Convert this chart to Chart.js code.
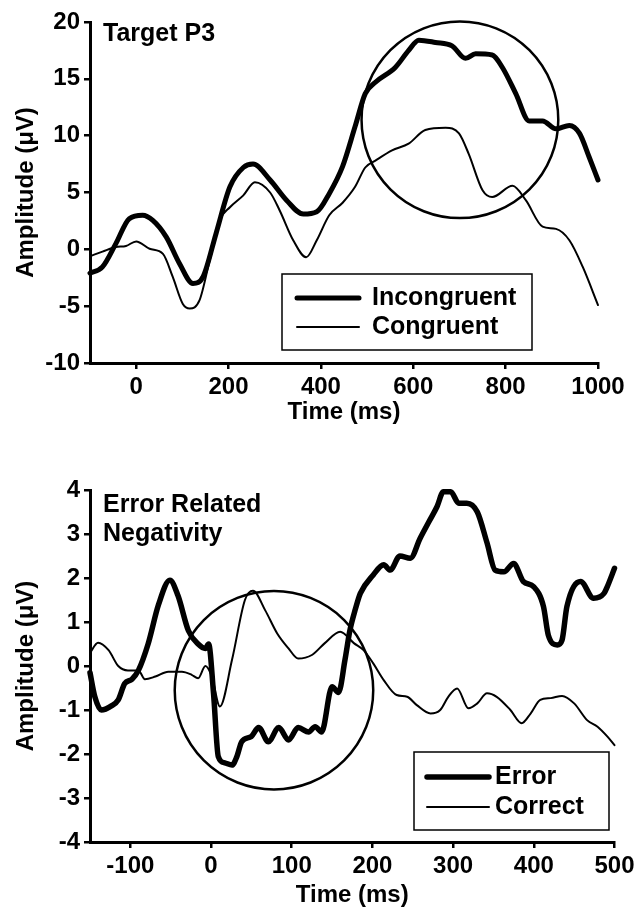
<!DOCTYPE html>
<html>
<head>
<meta charset="utf-8">
<script src="https://cdn.jsdelivr.net/npm/chart.js@4.4.1/dist/chart.umd.min.js"></script>
<style>
  body { margin: 0; background: #fff; }
  canvas { display: block; }
</style>
</head>
<body>
<canvas id="p3" width="639" height="430"></canvas>
<canvas id="ern" width="639" height="483"></canvas>
<script>
// --- Target P3 (top panel) ---
const p3XTicks = [0, 200, 400, 600, 800, 1000];
const p3YTicks = [-10, -5, 0, 5, 10, 15, 20];
const incongruentTime = [-100, -73, -44, -15, 14, 36, 65, 94, 123, 145, 173, 203, 232, 253, 290, 326, 362, 391, 418, 447, 474, 496, 518, 561, 590, 612, 648, 684, 713, 735, 771, 793, 822, 851, 880, 909, 938, 960, 981, 1000];
const incongruentAmp = [-2.1, -1.55, 0.5, 2.7, 3.0, 2.55, 1.1, -1.26, -3.0, -2.4, 1.4, 5.5, 7.2, 7.5, 6.1, 4.3, 3.1, 3.3, 4.9, 7.3, 10.8, 13.7, 14.7, 16.0, 17.5, 18.4, 18.2, 17.9, 16.8, 17.2, 17.1, 16.0, 13.7, 11.3, 11.3, 10.6, 10.9, 10.2, 8.1, 6.1];
const congruentTime = [-100, -73, -44, -22, 0, 29, 58, 79, 101, 116, 137, 159, 181, 203, 232, 257, 290, 311, 340, 368, 391, 418, 447, 474, 496, 518, 554, 590, 626, 670, 699, 720, 750, 771, 815, 844, 880, 909, 938, 967, 1000];
const congruentAmp = [-0.6, -0.2, 0.2, 0.3, 0.7, 0.05, -0.4, -2.4, -4.8, -5.2, -4.5, -1.0, 2.55, 3.7, 4.75, 5.9, 5.0, 3.4, 0.8, -0.7, 0.8, 3.0, 4.1, 5.5, 7.2, 7.8, 8.7, 9.3, 10.5, 10.7, 10.2, 8.4, 5.2, 4.6, 5.6, 4.3, 2.0, 1.8, 0.8, -1.55, -4.9];

// --- Error Related Negativity (bottom panel) ---
const ernXTicks = [-100, 0, 100, 200, 300, 400, 500];
const ernYTicks = [-4, -3, -2, -1, 0, 1, 2, 3, 4];
const errorTime = [-150, -144, -136, -123, -115, -107, -98, -90, -78, -65, -51, -41, -28, -16, -7, -3, 3, 9, 17, 26, 32, 38, 50, 59, 71, 84, 96, 108, 121, 129, 137, 150, 158, 166, 172, 179, 185, 201, 214, 222, 234, 247, 259, 270, 280, 288, 297, 307, 317, 330, 342, 352, 363, 375, 387, 400, 412, 418, 429, 435, 441, 458, 474, 487, 491, 500];
const errorAmp = [-0.15, -0.7, -1.0, -0.9, -0.77, -0.4, -0.3, -0.1, 0.5, 1.4, 1.95, 1.6, 0.8, 0.5, 0.4, 0.5, -0.6, -2.06, -2.2, -2.25, -2.06, -1.72, -1.6, -1.4, -1.72, -1.4, -1.68, -1.4, -1.5, -1.38, -1.5, -0.47, -0.6, 0.14, 0.8, 1.3, 1.65, 2.07, 2.3, 2.18, 2.5, 2.45, 2.9, 3.28, 3.62, 3.96, 3.96, 3.7, 3.7, 3.5, 2.8, 2.18, 2.14, 2.33, 1.92, 1.8, 1.35, 0.7, 0.48, 0.59, 1.35, 1.92, 1.54, 1.65, 1.8, 2.22];
const correctTime = [-150, -140, -127, -115, -103, -90, -82, -69, -53, -36, -24, -16, -7, 1, 11, 26, 42, 52, 67, 82, 96, 108, 125, 141, 160, 177, 189, 201, 214, 230, 243, 255, 272, 284, 294, 305, 319, 330, 342, 354, 371, 385, 396, 408, 421, 435, 450, 466, 479, 491, 500];
const correctAmp = [0.3, 0.53, 0.36, 0, -0.1, -0.1, -0.3, -0.24, -0.13, -0.13, -0.2, -0.28, 0, -0.24, -0.92, 0.14, 1.5, 1.71, 1.27, 0.74, 0.4, 0.17, 0.25, 0.52, 0.78, 0.52, 0.36, 0.06, -0.32, -0.66, -0.7, -0.89, -1.08, -1.0, -0.7, -0.51, -0.96, -0.85, -0.62, -0.7, -1.0, -1.3, -1.08, -0.77, -0.73, -0.68, -0.85, -1.23, -1.38, -1.6, -1.8];

const FONT = "'Liberation Sans', Arial, sans-serif";

function points(xs, ys) {
  return xs.map((x, i) => ({ x: x, y: ys[i] }));
}

// draws panel title, the highlight circle and the boxed legend
const overlayPlugin = {
  id: "overlay",
  afterDraw(chart, _args, opts) {
    const { ctx, chartArea } = chart;
    const xs = chart.scales.x;
    const ys = chart.scales.y;
    ctx.save();
    ctx.fillStyle = "#000";
    ctx.strokeStyle = "#000";
    ctx.font = "bold 25px " + FONT;
    ctx.textAlign = "left";
    ctx.textBaseline = "middle";
    opts.title.forEach((line, i) => {
      ctx.fillText(line, chartArea.left + 13, opts.titleY + i * 29);
    });

    const cx = xs.getPixelForValue(opts.circle[0]);
    const cy = ys.getPixelForValue(opts.circle[1]);
    const r = xs.getPixelForValue(opts.circle[0] + opts.circle[2]) - cx;
    ctx.lineWidth = 2.5;
    ctx.beginPath();
    ctx.arc(cx, cy, r, 0, Math.PI * 2);
    ctx.stroke();

    const b = opts.legend;
    ctx.lineWidth = 1.5;
    ctx.strokeRect(b.left, b.top, b.width, b.height);
    ctx.lineCap = "round";
    chart.data.datasets.forEach((ds, i) => {
      const ly = b.top + b.rowTop + i * b.rowGap;
      ctx.lineWidth = ds.borderWidth;
      ctx.beginPath();
      ctx.moveTo(b.left + b.sampleLeft, ly);
      ctx.lineTo(b.left + b.sampleLeft + b.sample, ly);
      ctx.stroke();
      ctx.fillText(ds.label, b.left + b.sampleLeft + b.sample + b.textGap, ly);
    });
    ctx.restore();
  },
};

function axis(min, max, tickValues, title, fitSize, horizontal) {
  const cfg = {
    type: "linear",
    min: min,
    max: max,
    afterBuildTicks: (s) => {
      s.ticks = tickValues.map((v) => ({ value: v }));
    },
    grid: {
      display: true,
      drawOnChartArea: false,
      drawTicks: true,
      tickLength: 6,
      lineWidth: 2.5,
      color: "#000",
    },
    border: { display: true, width: 3, color: "#000" },
    ticks: {
      color: "#000",
      font: { family: FONT, size: 24, weight: "bold" },
      padding: 4,
      autoSkip: false,
      maxRotation: 0,
      callback: (v) => String(v),
    },
    title: {
      display: true,
      text: title,
      color: "#000",
      font: { family: FONT, size: 24, weight: "bold" },
    },
  };
  if (horizontal) {
    cfg.afterFit = (s) => { s.height = fitSize; };
    cfg.title.padding = { top: 0, bottom: 3 };
  } else {
    cfg.afterFit = (s) => { s.width = fitSize; };
    cfg.title.padding = { top: 12, bottom: 0 };
  }
  return cfg;
}

function makeChart(id, datasets, scales, padding, overlay) {
  return new Chart(document.getElementById(id), {
    type: "line",
    data: { datasets: datasets },
    options: {
      responsive: false,
      animation: false,
      devicePixelRatio: 1,
      layout: { padding: padding },
      elements: {
        point: { radius: 0 },
        line: { borderColor: "#000", borderJoinStyle: "round", borderCapStyle: "round", cubicInterpolationMode: "monotone" },
      },
      scales: scales,
      plugins: { legend: { display: false }, tooltip: { enabled: false }, overlay: overlay },
    },
    plugins: [overlayPlugin],
  });
}

makeChart(
  "p3",
  [
    { label: "Incongruent", data: points(incongruentTime, incongruentAmp), borderWidth: 5, borderColor: "#000", clip: false },
    { label: "Congruent", data: points(congruentTime, congruentAmp), borderWidth: 2, borderColor: "#000", clip: false },
  ],
  {
    x: axis(-100, 1000, p3XTicks, "Time (ms)", 67, true),
    y: axis(-10, 20, p3YTicks, "Amplitude (\u03BCV)", 90, false),
  },
  { top: 22, right: 41, bottom: 0, left: 0 },
  {
    title: ["Target P3"],
    titleY: 34,
    circle: [701, 11.4, 213],
    legend: { left: 282, top: 274, width: 250, height: 76, rowTop: 24, rowGap: 29, sampleLeft: 15, sample: 62, textGap: 13 },
  }
);

makeChart(
  "ern",
  [
    { label: "Error", data: points(errorTime, errorAmp), borderWidth: 5.5, borderColor: "#000", clip: false },
    { label: "Correct", data: points(correctTime, correctAmp), borderWidth: 2, borderColor: "#000", clip: false },
  ],
  {
    x: axis(-150, 500, ernXTicks, "Time (ms)", 71, true),
    y: axis(-4, 4, ernYTicks, "Amplitude (\u03BCV)", 90, false),
  },
  { top: 60, right: 24.5, bottom: 0, left: 0 },
  {
    title: ["Error Related", "Negativity"],
    titleY: 75,
    circle: [78, -0.55, 123],
    legend: { left: 414, top: 322, width: 195, height: 78, rowTop: 25, rowGap: 30, sampleLeft: 13, sample: 62, textGap: 6 },
  }
);
</script>
</body>
</html>
